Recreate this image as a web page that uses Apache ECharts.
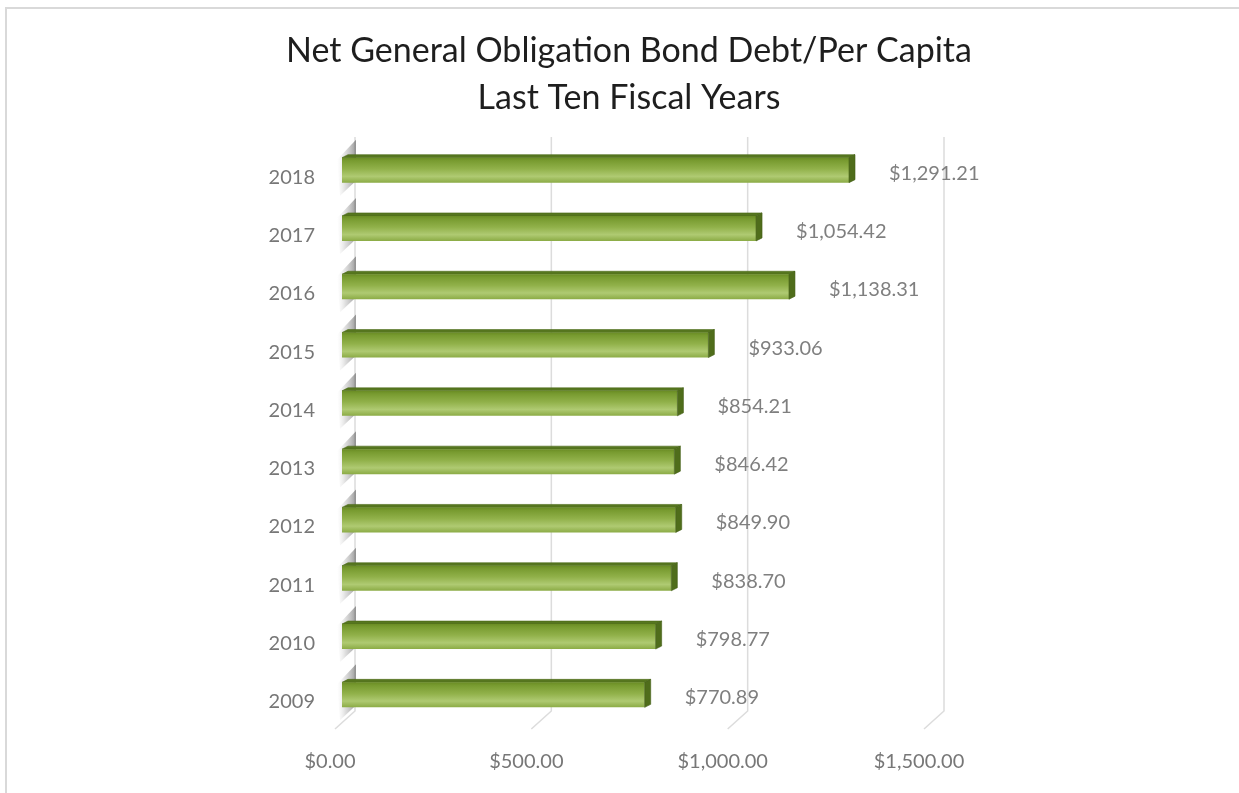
<!DOCTYPE html>
<html>
<head>
<meta charset="utf-8">
<title>Net General Obligation Bond Debt/Per Capita</title>
<script src="https://cdn.jsdelivr.net/npm/echarts@6/dist/echarts.min.js"></script>
<style>
  html, body { margin: 0; padding: 0; background: #ffffff; }
  #chart { width: 1239px; height: 793px; }
</style>
</head>
<body>
<div id="chart"></div>
<script>
// Fiscal years, bottom to top
const years = ['2009', '2010', '2011', '2012', '2013', '2014', '2015', '2016', '2017', '2018'];
// Net general obligation bond debt per capita (dollars)
const debtPerCapita = [770.89, 798.77, 838.70, 849.90, 846.42, 854.21, 933.06, 1138.31, 1054.42, 1291.21];
// Value-axis ticks
const valueTicks = [0, 500, 1000, 1500];

const FONT = 'Lato, "Open Sans", sans-serif';
const money = new Intl.NumberFormat('en-US', { minimumFractionDigits: 2, maximumFractionDigits: 2 });
const fmt = v => '$' + money.format(v);

// 3D bar geometry: depth offset of the top/side faces and front-face height
const DEPTH_X = 6, DEPTH_Y = 3, FACE_H = 25;

const frontGradient = new echarts.graphic.LinearGradient(0, 0, 0, 1, [
  { offset: 0, color: '#6a8c24' },
  { offset: 0.12, color: '#789b30' },
  { offset: 0.45, color: '#91b14a' },
  { offset: 0.75, color: '#afca72' },
  { offset: 1, color: '#8bab45' }
]);
const wallShade = new echarts.graphic.LinearGradient(1, 0, 0, 0, [
  { offset: 0, color: 'rgba(100,100,100,0.65)' },
  { offset: 0.55, color: 'rgba(160,160,160,0.35)' },
  { offset: 1, color: 'rgba(220,220,220,0)' }
]);

function renderBar(params, api) {
  const idx = api.value(1);
  const val = api.value(0);
  const p0 = api.coord([0, idx]);
  const p1 = api.coord([val, idx]);
  const x0 = p0[0], x1 = p1[0], cy = p0[1];
  const top = cy - FACE_H / 2, bottom = cy + FACE_H / 2;
  return {
    type: 'group',
    children: [
      { // shading on the side wall behind the bar's left end
        type: 'polygon',
        shape: { points: [[x0 - 5, top + 2], [x0 + 14, top - 18], [x0 + 14, bottom - 2], [x0 - 2, bottom + 13]] },
        style: { fill: wallShade },
        z2: 0
      },
      { // top face
        type: 'polygon',
        shape: { points: [[x0, top], [x0 + DEPTH_X, top - DEPTH_Y], [x1 + DEPTH_X, top - DEPTH_Y], [x1, top]] },
        style: { fill: '#56761f', stroke: '#4b6a18', lineWidth: 0.6 },
        z2: 2
      },
      { // front face
        type: 'rect',
        shape: { x: x0, y: top, width: x1 - x0, height: FACE_H },
        style: { fill: frontGradient },
        z2: 3
      },
      { // right-hand end face
        type: 'polygon',
        shape: { points: [[x1, top], [x1 + DEPTH_X, top - DEPTH_Y], [x1 + DEPTH_X, bottom - DEPTH_Y], [x1, bottom]] },
        style: { fill: '#4f6d1b', stroke: '#435e15', lineWidth: 0.6 },
        z2: 3
      },
      { // data label
        type: 'text',
        x: x1 + 40,
        y: cy + 3,
        style: {
          text: fmt(val),
          fill: '#7f7f7f',
          font: '20px ' + FONT,
          align: 'left',
          verticalAlign: 'middle'
        },
        z2: 4
      }
    ]
  };
}

function renderGridLine(params, api) {
  const cs = params.coordSys;
  const x = api.coord([api.value(0), 0])[0];
  const backX = x + 13;
  const yTop = cs.y - 4;
  const yFloor = cs.y + cs.height - 13;
  return {
    type: 'polyline',
    shape: { points: [[backX, yTop], [backX, yFloor], [x - 7, yFloor + 18]] },
    style: { stroke: '#dcdcdc', lineWidth: 1.5, fill: null }
  };
}

const chart = echarts.init(document.getElementById('chart'), null, { renderer: 'canvas' });

chart.setOption({
  backgroundColor: '#ffffff',
  animation: false,
  title: {
    text: 'Net General Obligation Bond Debt/Per Capita\nLast Ten Fiscal Years',
    left: 624,
    top: 23,
    textAlign: 'center',
    textStyle: {
      fontFamily: FONT,
      fontSize: 34,
      fontWeight: 'normal',
      color: '#1e1e1e',
      lineHeight: 47
    }
  },
  graphic: [
    { // chart-area frame
      type: 'polyline',
      shape: { points: [[6, 800], [6, 8], [1245, 8]] },
      style: { stroke: '#d9d9d9', lineWidth: 2, fill: null },
      silent: true
    }
  ],
  grid: { left: 342, right: 1239 - 931, top: 141, bottom: 69, containLabel: false },
  xAxis: {
    type: 'value',
    min: 0,
    max: 1500,
    interval: 500,
    axisLine: { show: false },
    axisTick: { show: false },
    splitLine: { show: false },
    axisLabel: {
      formatter: v => fmt(v),
      color: '#777777',
      fontFamily: FONT,
      fontSize: 20,
      margin: 28,
      padding: [0, 24, 0, 0]
    }
  },
  yAxis: {
    type: 'category',
    data: years,
    axisLine: { show: false },
    axisTick: { show: false },
    splitLine: { show: false },
    axisLabel: {
      color: '#777777',
      fontFamily: FONT,
      fontSize: 20,
      margin: 27,
      verticalAlign: 'top',
      lineHeight: 14
    }
  },
  series: [
    {
      type: 'custom',
      name: 'gridlines',
      renderItem: renderGridLine,
      data: valueTicks.map(t => [t]),
      encode: { x: 0 },
      silent: true,
      z: 1
    },
    {
      type: 'custom',
      name: 'Debt per capita',
      renderItem: renderBar,
      data: debtPerCapita.map((v, i) => [v, i]),
      encode: { x: 0, y: 1 },
      z: 2
    }
  ]
});
</script>
</body>
</html>
